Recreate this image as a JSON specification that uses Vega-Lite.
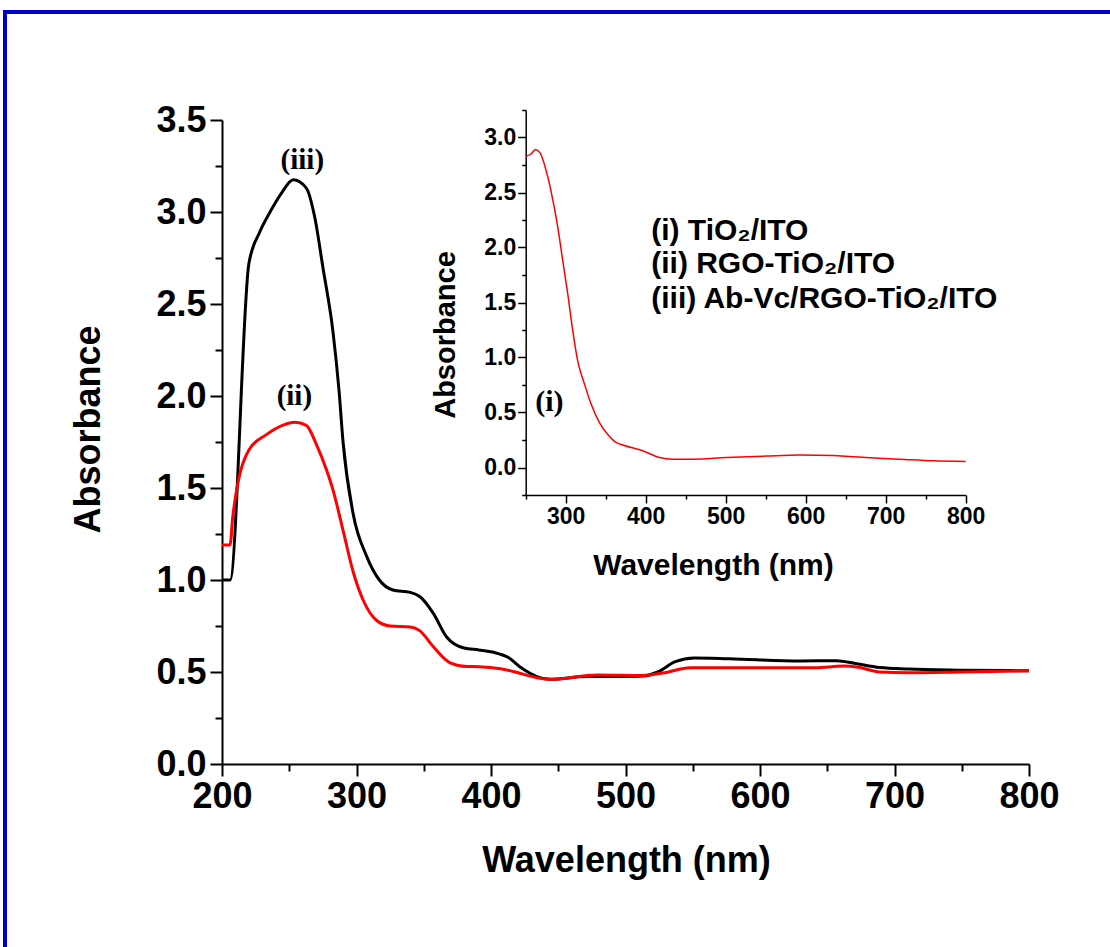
{
  "$schema": "https://vega.github.io/schema/vega-lite/v6.json",
  "width": 807,
  "height": 644,
  "autosize": {"type": "none"},
  "padding": {"left": 222, "top": 120, "right": 81, "bottom": 183},
  "background": "white",
  "config": {
    "view": {"stroke": null},
    "font": "Liberation Sans",
    "axis": {"grid": false, "labelColor": "black", "titleColor": "black", "domainColor": "black", "tickColor": "black", "labelFlush": false, "labelOverlap": false, "labelBound": false}
  },
  "datasets": {
    "iii": [
      {"wavelength": 200, "absorbance": 1.0}, {"wavelength": 206, "absorbance": 1.0}, {"wavelength": 220, "absorbance": 2.72},
      {"wavelength": 228, "absorbance": 2.89}, {"wavelength": 235, "absorbance": 2.99}, {"wavelength": 244, "absorbance": 3.10},
      {"wavelength": 253, "absorbance": 3.175}, {"wavelength": 262.7, "absorbance": 3.13}, {"wavelength": 269, "absorbance": 2.97},
      {"wavelength": 275, "absorbance": 2.70}, {"wavelength": 282.5, "absorbance": 2.35}, {"wavelength": 287, "absorbance": 2.03},
      {"wavelength": 290, "absorbance": 1.75}, {"wavelength": 297.5, "absorbance": 1.36}, {"wavelength": 307.5, "absorbance": 1.13},
      {"wavelength": 317, "absorbance": 1.0}, {"wavelength": 327, "absorbance": 0.946}, {"wavelength": 340, "absorbance": 0.933},
      {"wavelength": 347, "absorbance": 0.91}, {"wavelength": 357, "absorbance": 0.82}, {"wavelength": 367, "absorbance": 0.69},
      {"wavelength": 380, "absorbance": 0.63}, {"wavelength": 391, "absorbance": 0.62}, {"wavelength": 402, "absorbance": 0.607},
      {"wavelength": 412.6, "absorbance": 0.58}, {"wavelength": 423, "absorbance": 0.52}, {"wavelength": 434, "absorbance": 0.475},
      {"wavelength": 444, "absorbance": 0.46}, {"wavelength": 471, "absorbance": 0.475}, {"wavelength": 498, "absorbance": 0.475},
      {"wavelength": 513.5, "absorbance": 0.478}, {"wavelength": 524, "absorbance": 0.50}, {"wavelength": 537, "absorbance": 0.556},
      {"wavelength": 551, "absorbance": 0.576}, {"wavelength": 577, "absorbance": 0.572}, {"wavelength": 630, "absorbance": 0.56},
      {"wavelength": 657, "absorbance": 0.561}, {"wavelength": 670, "absorbance": 0.547}, {"wavelength": 689, "absorbance": 0.524},
      {"wavelength": 710, "absorbance": 0.516}, {"wavelength": 750, "absorbance": 0.51}, {"wavelength": 800, "absorbance": 0.507}
    ],
    "ii": [
      {"wavelength": 200, "absorbance": 1.19}, {"wavelength": 206, "absorbance": 1.19}, {"wavelength": 208, "absorbance": 1.344},
      {"wavelength": 220, "absorbance": 1.707}, {"wavelength": 233, "absorbance": 1.79}, {"wavelength": 245, "absorbance": 1.84},
      {"wavelength": 254, "absorbance": 1.857}, {"wavelength": 262.7, "absorbance": 1.84}, {"wavelength": 270, "absorbance": 1.74},
      {"wavelength": 277.6, "absorbance": 1.60}, {"wavelength": 282.5, "absorbance": 1.49}, {"wavelength": 290, "absorbance": 1.27},
      {"wavelength": 297.5, "absorbance": 1.045}, {"wavelength": 305, "absorbance": 0.89}, {"wavelength": 315, "absorbance": 0.78},
      {"wavelength": 325, "absorbance": 0.75}, {"wavelength": 340, "absorbance": 0.745}, {"wavelength": 347, "absorbance": 0.725},
      {"wavelength": 357, "absorbance": 0.638}, {"wavelength": 369.6, "absorbance": 0.55}, {"wavelength": 382, "absorbance": 0.53},
      {"wavelength": 391, "absorbance": 0.529}, {"wavelength": 407, "absorbance": 0.518}, {"wavelength": 418, "absorbance": 0.50},
      {"wavelength": 434, "absorbance": 0.469}, {"wavelength": 444, "absorbance": 0.46}, {"wavelength": 479, "absorbance": 0.484},
      {"wavelength": 513, "absorbance": 0.481}, {"wavelength": 529, "absorbance": 0.496}, {"wavelength": 548, "absorbance": 0.523},
      {"wavelength": 604, "absorbance": 0.523}, {"wavelength": 641, "absorbance": 0.523}, {"wavelength": 662, "absorbance": 0.532},
      {"wavelength": 673, "absorbance": 0.526}, {"wavelength": 689, "absorbance": 0.50}, {"wavelength": 710, "absorbance": 0.496},
      {"wavelength": 750, "absorbance": 0.50}, {"wavelength": 800, "absorbance": 0.507}
    ],
    "i": [
      {"wavelength": 250, "absorbance": 2.83}, {"wavelength": 256.7, "absorbance": 2.85}, {"wavelength": 262, "absorbance": 2.89},
      {"wavelength": 268, "absorbance": 2.86}, {"wavelength": 275.5, "absorbance": 2.70}, {"wavelength": 283.7, "absorbance": 2.44},
      {"wavelength": 290, "absorbance": 2.19}, {"wavelength": 296.3, "absorbance": 1.88}, {"wavelength": 302.5, "absorbance": 1.58},
      {"wavelength": 308.8, "absorbance": 1.245}, {"wavelength": 315, "absorbance": 0.97}, {"wavelength": 323.4, "absorbance": 0.76},
      {"wavelength": 331.8, "absorbance": 0.577}, {"wavelength": 342, "absorbance": 0.41}, {"wavelength": 352.6, "absorbance": 0.30},
      {"wavelength": 363, "absorbance": 0.228}, {"wavelength": 371.4, "absorbance": 0.204}, {"wavelength": 396.4, "absorbance": 0.152},
      {"wavelength": 417.3, "absorbance": 0.091}, {"wavelength": 434, "absorbance": 0.076}, {"wavelength": 459, "absorbance": 0.076},
      {"wavelength": 500.7, "absorbance": 0.091}, {"wavelength": 550.8, "absorbance": 0.104}, {"wavelength": 592.5, "absorbance": 0.113},
      {"wavelength": 634, "absorbance": 0.11}, {"wavelength": 659, "absorbance": 0.097}, {"wavelength": 718, "absorbance": 0.076},
      {"wavelength": 759.4, "absorbance": 0.061}, {"wavelength": 800, "absorbance": 0.055}
    ],
    "mainNotes": [
      {"wavelength": 259.7, "absorbance": 3.28, "label": "(iii)"},
      {"wavelength": 253.8, "absorbance": 2.0, "label": "(ii)"}
    ],
    "insetNote": [
      {"wavelength": 279.6, "absorbance": 0.598, "label": "(i)"}
    ],
    "insetLegend": [
      {"wavelength": 406.9, "absorbance": 2.148, "label": "(i) TiO₂/ITO"},
      {"wavelength": 406.9, "absorbance": 1.852, "label": "(ii) RGO-TiO₂/ITO"},
      {"wavelength": 406.9, "absorbance": 1.533, "label": "(iii) Ab-Vc/RGO-TiO₂/ITO"}
    ],
    "frame": [{"part": "figure border"}]
  },
  "layer": [
    {
      "layer": [
        {
          "data": {"name": "iii"},
          "mark": {"type": "line", "color": "#000000", "strokeWidth": 3, "interpolate": "monotone"},
          "encoding": {
            "x": {
              "field": "wavelength", "type": "quantitative",
              "scale": {"domain": [200, 800], "nice": false, "zero": false},
              "axis": {
                "values": [200, 250, 300, 350, 400, 450, 500, 550, 600, 650, 700, 750, 800],
                "labelExpr": "datum.value % 100 === 0 ? datum.label : ''",
                "tickSize": {"condition": {"test": "datum.value % 100 !== 0", "value": 7}, "value": 12},
                "tickWidth": 2, "domainWidth": 2,
                "labelFont": "Liberation Sans", "labelFontWeight": "bold", "labelFontSize": 36, "labelPadding": 3,
                "title": "Wavelength (nm)",
                "titleFont": "Liberation Sans", "titleFontSize": 36, "titleFontWeight": "bold",
                "titleX": 404, "titleY": 96, "titleBaseline": "middle", "titleAlign": "center"
              }
            },
            "y": {
              "field": "absorbance", "type": "quantitative",
              "scale": {"domain": [0, 3.5], "nice": false, "zero": false},
              "axis": {
                "values": [0, 0.25, 0.5, 0.75, 1, 1.25, 1.5, 1.75, 2, 2.25, 2.5, 2.75, 3, 3.25, 3.5],
                "labelExpr": "datum.value % 0.5 === 0 ? format(datum.value, '.1f') : ''",
                "tickSize": {"condition": {"test": "datum.value % 0.5 !== 0", "value": 7}, "value": 12},
                "tickWidth": 2, "domainWidth": 2,
                "labelFont": "Liberation Sans", "labelFontWeight": "bold", "labelFontSize": 36, "labelPadding": 4,
                "title": "Absorbance",
                "titleFont": "Liberation Sans", "titleFontSize": 36, "titleFontWeight": "bold",
                "titleX": -134, "titleY": 309, "titleAngle": 270, "titleBaseline": "middle", "titleAlign": "center"
              }
            }
          }
        },
        {
          "data": {"name": "ii"},
          "mark": {"type": "line", "color": "#ff0000", "strokeWidth": 3, "interpolate": "monotone"},
          "encoding": {
            "x": {"field": "wavelength", "type": "quantitative"},
            "y": {"field": "absorbance", "type": "quantitative"}
          }
        },
        {
          "data": {"name": "mainNotes"},
          "mark": {"type": "text", "font": "Liberation Serif", "fontWeight": "bold", "fontSize": 29, "color": "#000000", "align": "center", "baseline": "middle"},
          "encoding": {
            "x": {"field": "wavelength", "type": "quantitative"},
            "y": {"field": "absorbance", "type": "quantitative"},
            "text": {"field": "label"}
          }
        }
      ]
    },
    {
      "layer": [
        {
          "data": {"name": "i"},
          "mark": {"type": "line", "color": "#ff0000", "strokeWidth": 1.5, "interpolate": "monotone"},
          "encoding": {
            "x": {
              "field": "wavelength", "type": "quantitative",
              "scale": {"domain": [250, 800], "nice": false, "zero": false, "range": [303.7, 743.7]},
              "axis": {
                "orient": "bottom", "offset": -269,
                "values": [250, 300, 350, 400, 450, 500, 550, 600, 650, 700, 750, 800],
                "labelExpr": "datum.value % 100 === 0 ? datum.label : ''",
                "tickSize": {"condition": {"test": "datum.value % 100 !== 0", "value": 4}, "value": 8},
                "tickWidth": 1.5, "domainWidth": 1.5,
                "labelFont": "Liberation Sans", "labelFontWeight": "bold", "labelFontSize": 23, "labelPadding": 2,
                "title": "Wavelength (nm)",
                "titleFont": "Liberation Sans", "titleFontSize": 30, "titleFontWeight": "bold",
                "titleX": 491, "titleY": 70, "titleBaseline": "middle", "titleAlign": "center"
              }
            },
            "y": {
              "field": "absorbance", "type": "quantitative",
              "scale": {"domain": [-0.25, 3.25], "nice": false, "zero": false, "range": [375, -10]},
              "axis": {
                "orient": "left", "offset": -303.7,
                "values": [-0.25, 0, 0.25, 0.5, 0.75, 1, 1.25, 1.5, 1.75, 2, 2.25, 2.5, 2.75, 3, 3.25],
                "labelExpr": "datum.value >= 0 && datum.value <= 3 && datum.value % 0.5 === 0 ? format(datum.value, '.1f') : ''",
                "tickSize": {"condition": {"test": "datum.value % 0.5 !== 0", "value": 4}, "value": 8},
                "tickWidth": 1.5, "domainWidth": 1.5,
                "labelFont": "Liberation Sans", "labelFontWeight": "bold", "labelFontSize": 23, "labelPadding": 2,
                "title": "Absorbance",
                "titleFont": "Liberation Sans", "titleFontSize": 29, "titleFontWeight": "bold",
                "titleX": -80.7, "titleY": 214.5, "titleAngle": 270, "titleBaseline": "middle", "titleAlign": "center"
              }
            }
          }
        },
        {
          "data": {"name": "insetNote"},
          "mark": {"type": "text", "font": "Liberation Serif", "fontWeight": "bold", "fontSize": 30, "color": "#000000", "align": "center", "baseline": "middle"},
          "encoding": {
            "x": {"field": "wavelength", "type": "quantitative"},
            "y": {"field": "absorbance", "type": "quantitative"},
            "text": {"field": "label"}
          }
        },
        {
          "data": {"name": "insetLegend"},
          "mark": {"type": "text", "font": "Liberation Sans", "fontWeight": "bold", "fontSize": 30, "color": "#000000", "align": "left", "baseline": "middle"},
          "encoding": {
            "x": {"field": "wavelength", "type": "quantitative"},
            "y": {"field": "absorbance", "type": "quantitative"},
            "text": {"field": "label"}
          }
        }
      ]
    },
    {
      "data": {"name": "frame"},
      "mark": {"type": "rect", "fill": null, "filled": false, "stroke": "#0000cc", "strokeWidth": 4, "clip": false},
      "encoding": {
        "x": {"datum": 0, "type": "quantitative", "scale": {"domain": [0, 1], "range": [-217, 978], "nice": false, "zero": false}, "axis": null},
        "x2": {"datum": 1},
        "y": {"datum": 0, "type": "quantitative", "scale": {"domain": [0, 1], "range": [880, -108], "nice": false, "zero": false}, "axis": null},
        "y2": {"datum": 1}
      }
    }
  ],
  "resolve": {"scale": {"x": "independent", "y": "independent"}}
}
